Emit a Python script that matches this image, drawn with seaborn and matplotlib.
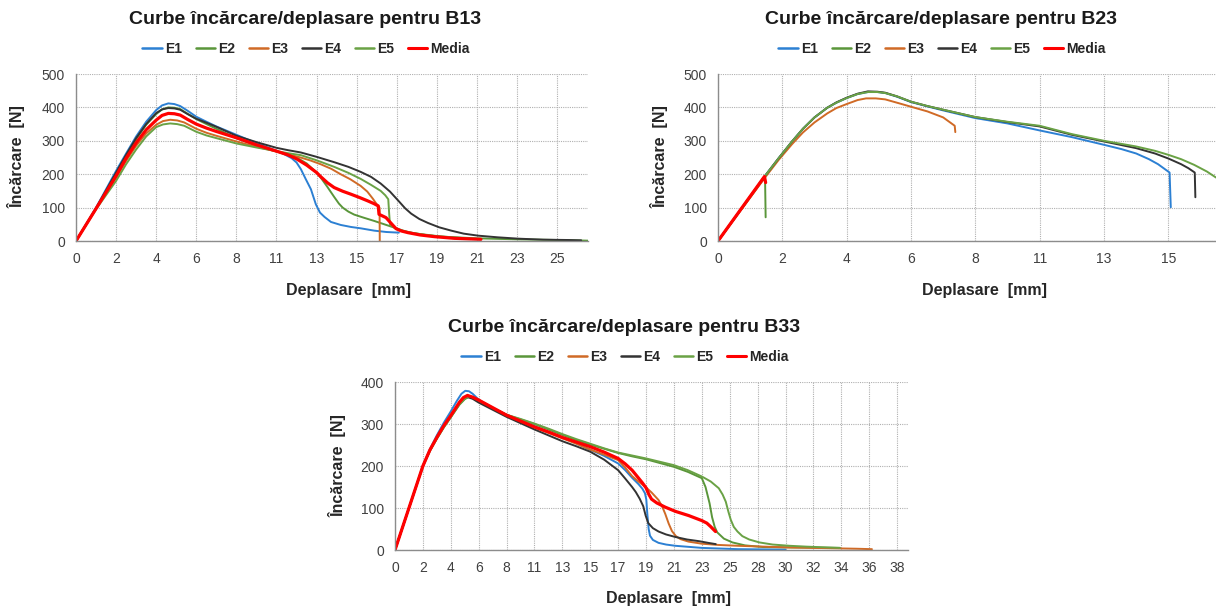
import matplotlib
matplotlib.use("Agg")
import matplotlib.pyplot as plt
import seaborn as sns
import pandas as pd

# Excel category axis: labels every ~2.12 mm, shown rounded
TICK_STEP = 2.12
B13_XTICKS = ["0", "2", "4", "6", "8", "11", "13", "15", "17", "19", "21", "23", "25"]
B23_XTICKS = ["0", "2", "4", "6", "8", "11", "13", "15"]
B33_XTICKS = ["0", "2", "4", "6", "8", "11", "13", "15", "17", "19", "21", "23",
              "25", "28", "30", "32", "34", "36", "38"]
SERIES = ["E1", "E2", "E3", "E4", "E5", "Media"]

# (deplasare mm, incarcare N)
B13_E1 = [(0, 0), (1.06, 100), (2.12, 210), (2.65, 262), (3.18, 313), (3.71, 357), (4.24, 392),
          (4.55, 406), (4.88, 412), (5.2, 410), (5.51, 404), (5.9, 390), (6.36, 372), (6.9, 357),
          (7.42, 343), (8.48, 318), (9.54, 293), (10.6, 270), (11.0, 260), (11.4, 248),
          (11.66, 235), (11.89, 215), (12.15, 185), (12.42, 155), (12.68, 110), (12.9, 85),
          (13.14, 72), (13.48, 57), (14.0, 48), (14.54, 42), (15.05, 38), (15.77, 31),
          (16.4, 27), (17.07, 25)]
B13_E2 = [(0, 0), (1.06, 97), (2.12, 200), (2.65, 255), (3.18, 305), (3.71, 348), (4.24, 380),
          (4.55, 394), (4.88, 400), (5.2, 399), (5.51, 395), (5.9, 381), (6.36, 365), (6.9, 350),
          (7.42, 336), (8.48, 308), (9.54, 285), (10.6, 268), (11.66, 250), (12.2, 232),
          (12.72, 205), (13.0, 185), (13.29, 162), (13.65, 132), (13.9, 112), (14.1, 100),
          (14.4, 88), (14.71, 79), (15.2, 70), (15.77, 60), (16.3, 50), (16.83, 40), (17.3, 31),
          (17.72, 25), (18.5, 18), (19.29, 13), (21.2, 8), (23.32, 5), (25.44, 3), (27.07, 1)]
B13_E3 = [(0, 0), (1.06, 97), (2.12, 190), (2.65, 240), (3.18, 285), (3.71, 322), (4.24, 348),
          (4.6, 359), (4.98, 363), (5.35, 361), (5.72, 355), (6.36, 336), (6.9, 324), (7.42, 315),
          (8.48, 298), (9.54, 282), (10.6, 268), (11.2, 260), (11.87, 250), (12.4, 241),
          (12.93, 230), (13.5, 216), (13.99, 200), (14.5, 185), (15.05, 165), (15.4, 148),
          (15.69, 127), (15.9, 110), (16.05, 100), (16.06, 0)]
B13_E4 = [(0, 0), (1.06, 98), (2.12, 205), (2.65, 258), (3.18, 308), (3.71, 350), (4.24, 383),
          (4.55, 394), (4.88, 398), (5.2, 397), (5.51, 393), (5.9, 380), (6.36, 366), (6.9, 354),
          (7.42, 342), (8.48, 315), (9.54, 296), (10.6, 279), (11.2, 272), (11.89, 265),
          (12.72, 252), (13.65, 236), (14.4, 222), (15.05, 207), (15.6, 192), (16.11, 172),
          (16.6, 148), (17.02, 122), (17.4, 98), (17.72, 82), (18.15, 66), (18.61, 54),
          (19.2, 41), (19.84, 31), (20.5, 22), (21.26, 16), (22.3, 11), (23.38, 7), (24.7, 4),
          (26.01, 3), (26.71, 2)]
B13_E5 = [(0, 0), (1.06, 95), (2.12, 180), (2.65, 230), (3.18, 274), (3.71, 313), (4.24, 341),
          (4.6, 349), (4.98, 352), (5.35, 350), (5.72, 345), (6.36, 327), (6.9, 316), (7.42, 308),
          (8.48, 292), (9.54, 280), (10.6, 269), (11.2, 263), (11.89, 257), (12.7, 242),
          (13.65, 222), (14.4, 204), (15.05, 186), (15.6, 168), (16.11, 150), (16.35, 137),
          (16.51, 125), (16.56, 80), (16.6, 50), (16.92, 36), (17.4, 28), (18.02, 22),
          (19.08, 15), (20.14, 10), (21.2, 6)]
B13_MEDIA = [(0, 0), (1.06, 97), (2.12, 195), (2.65, 248), (3.18, 294), (3.71, 333), (4.24, 362),
             (4.55, 376), (4.88, 382), (5.2, 381), (5.51, 377), (5.9, 364), (6.36, 350),
             (6.9, 338), (7.42, 328), (8.48, 309), (9.54, 288), (10.6, 269), (11.2, 258),
             (11.66, 246), (12.2, 227), (12.72, 205), (12.95, 192), (13.3, 174), (13.65, 160),
             (14.1, 149), (14.54, 140), (15.0, 130), (15.43, 120), (15.75, 112), (15.98, 105),
             (16.02, 80), (16.39, 70), (16.66, 53), (16.92, 37), (17.2, 30), (17.55, 25),
             (18.2, 18), (18.95, 13), (20.0, 8), (21.41, 5)]

B23_E1 = [(0, 0), (1.55, 195), (2.0, 248), (2.44, 298), (2.8, 336), (3.18, 370), (3.6, 399),
          (3.9, 414), (4.24, 428), (4.6, 440), (4.94, 446), (5.25, 446), (5.51, 443), (5.9, 432),
          (6.36, 416), (6.9, 403), (7.42, 391), (8.48, 368), (9.54, 352), (10.6, 331),
          (11.66, 311), (12.72, 288), (13.3, 275), (13.78, 262), (14.2, 245), (14.5, 230),
          (14.88, 205), (14.92, 101)]
B23_E2 = [(0, 0), (1.55, 192), (1.57, 71)]
B23_E3 = [(0, 0), (1.55, 190), (2.0, 243), (2.44, 290), (2.8, 325), (3.18, 355), (3.6, 382),
          (3.9, 398), (4.24, 410), (4.6, 422), (4.88, 427), (5.2, 427), (5.51, 424), (5.9, 414),
          (6.36, 402), (6.9, 388), (7.42, 370), (7.8, 345), (7.82, 326)]
B23_E4 = [(0, 0), (1.55, 195), (2.0, 248), (2.44, 298), (2.8, 336), (3.18, 370), (3.6, 399),
          (3.9, 415), (4.24, 429), (4.6, 441), (4.94, 448), (5.25, 447), (5.51, 444), (5.9, 433),
          (6.36, 417), (6.9, 404), (7.42, 393), (8.48, 371), (9.54, 356), (10.6, 343),
          (11.66, 318), (12.72, 298), (13.78, 278), (14.4, 262), (14.84, 247), (15.26, 230),
          (15.5, 218), (15.71, 205), (15.73, 131)]
B23_E5 = [(0, 0), (1.55, 195), (2.0, 248), (2.44, 298), (2.8, 336), (3.18, 370), (3.6, 399),
          (3.9, 414), (4.24, 428), (4.6, 440), (4.94, 446), (5.25, 446), (5.51, 443), (5.9, 433),
          (6.36, 417), (6.9, 404), (7.42, 393), (8.48, 371), (9.54, 357), (10.6, 345),
          (11.66, 320), (12.72, 300), (13.78, 283), (14.4, 270), (14.84, 258), (15.26, 245),
          (15.69, 228), (16.11, 208), (16.41, 190)]
B23_MEDIA = [(0, 0), (1.53, 193), (1.57, 175)]

B33_E1 = [(0, 0), (1.06, 100), (2.12, 200), (2.65, 240), (3.18, 273), (3.71, 303), (4.24, 330),
          (4.7, 355), (5.05, 372), (5.34, 379), (5.62, 378), (5.9, 372), (6.36, 358), (7.42, 338),
          (8.48, 322), (9.54, 308), (10.6, 295), (11.66, 281), (12.72, 268), (13.78, 254),
          (14.84, 239), (15.9, 224), (16.96, 206), (17.5, 190), (18.02, 172), (18.5, 157),
          (18.8, 146), (19.0, 135), (19.1, 120), (19.18, 85), (19.28, 50), (19.38, 34),
          (19.6, 24), (20.03, 17), (20.6, 13), (21.31, 10), (23.32, 5), (26.08, 2), (29.68, 1)]
B33_E2 = [(0, 0), (1.06, 100), (2.12, 200), (2.65, 236), (3.18, 265), (3.71, 292), (4.24, 316),
          (4.9, 346), (5.3, 359), (5.62, 365), (5.95, 362), (6.36, 356), (7.42, 338), (8.48, 322),
          (9.54, 311), (10.6, 300), (11.66, 287), (12.72, 274), (13.78, 262), (14.84, 251),
          (15.9, 241), (16.96, 231), (18.02, 223), (19.08, 216), (20.14, 207), (21.2, 198),
          (22.26, 186), (23.32, 171), (23.6, 150), (23.8, 125), (23.91, 111), (24.1, 78),
          (24.3, 55), (24.49, 42), (25.0, 27), (25.65, 18), (26.6, 11), (27.98, 7), (30.5, 6),
          (33.81, 5)]
B33_E3 = [(0, 0), (1.06, 100), (2.12, 200), (2.65, 237), (3.18, 267), (3.71, 295), (4.24, 319),
          (4.9, 350), (5.2, 361), (5.51, 366), (5.9, 363), (6.36, 356), (7.42, 338), (8.48, 320),
          (9.54, 305), (10.6, 292), (11.66, 279), (12.72, 266), (13.78, 253), (14.84, 239),
          (15.9, 227), (16.96, 214), (17.5, 196), (18.02, 176), (18.5, 163), (19.08, 149),
          (19.5, 137), (20.03, 119), (20.3, 104), (20.54, 86), (20.8, 63), (21.05, 45),
          (21.35, 33), (21.69, 26), (22.3, 20), (23.32, 15), (24.6, 12), (26.08, 10),
          (29.98, 6), (35.09, 3), (36.25, 2)]
B33_E4 = [(0, 0), (1.06, 100), (2.12, 200), (2.65, 237), (3.18, 267), (3.71, 295), (4.24, 318),
          (4.9, 350), (5.2, 360), (5.51, 364), (5.9, 360), (6.36, 351), (7.42, 334), (8.48, 317),
          (9.54, 302), (10.6, 287), (11.66, 273), (12.72, 259), (13.78, 247), (14.84, 234),
          (15.9, 215), (16.96, 190), (17.5, 170), (18.02, 150), (18.3, 138), (18.6, 122),
          (18.87, 104), (19.05, 82), (19.25, 64), (19.6, 52), (20.03, 44), (20.6, 37),
          (21.31, 31), (22.2, 25), (23.11, 21), (23.8, 17), (24.38, 14)]
B33_E5 = [(0, 0), (1.06, 100), (2.12, 200), (2.65, 236), (3.18, 265), (3.71, 292), (4.24, 316),
          (4.9, 347), (5.3, 360), (5.62, 366), (5.95, 363), (6.36, 357), (7.42, 339), (8.48, 322),
          (9.54, 312), (10.6, 301), (11.66, 289), (12.72, 276), (13.78, 264), (14.84, 253),
          (15.9, 242), (16.96, 232), (18.02, 225), (19.08, 218), (20.14, 210), (21.2, 202),
          (22.26, 190), (23.32, 175), (24.0, 163), (24.61, 147), (24.9, 132), (25.14, 115),
          (25.35, 90), (25.52, 72), (25.75, 55), (26.03, 44), (26.4, 33), (26.92, 25),
          (27.7, 18), (28.7, 13), (30.0, 10), (31.27, 8), (33.81, 5)]
B33_MEDIA = [(0, 0), (1.06, 100), (2.12, 200), (2.65, 238), (3.18, 268), (3.71, 296),
             (4.24, 320), (4.9, 352), (5.2, 363), (5.51, 368), (5.9, 364), (6.36, 357),
             (7.42, 339), (8.48, 321), (9.54, 307), (10.6, 293), (11.66, 281), (12.72, 268),
             (13.78, 257), (14.84, 246), (15.9, 233), (16.96, 218), (17.5, 205), (18.02, 190),
             (18.49, 172), (18.8, 160), (19.08, 148), (19.3, 132), (19.5, 121), (19.9, 112),
             (20.54, 102), (21.31, 92), (22.32, 82), (23.32, 70), (23.7, 64), (23.98, 56),
             (24.36, 44)]

COLORS = {"E1": "#2C80D3", "E2": "#5A963A", "E3": "#D06A26", "E4": "#333333",
          "E5": "#6AA245", "Media": "#FF0000"}
WIDTHS = {"E1": 1.4, "E2": 1.4, "E3": 1.4, "E4": 1.4, "E5": 1.4, "Media": 2.3}

sns.set_theme(style="white")
plt.rcParams["font.family"] = ["Liberation Sans", "DejaVu Sans"]

W, H = 1216, 609
fig = plt.figure(figsize=(W / 100, H / 100), dpi=100)


def fx(px):
    return px / W


def fy(py):
    return 1 - py / H


def draw_panel(curves, xticks, xmax, ymax, box, title_xy, legend_xy, xlabel_xy, ylabel_xy, name):
    left, top, right, bottom = box
    ax = fig.add_axes([fx(left), fy(bottom), fx(right) - fx(left), fy(top) - fy(bottom)])
    for s in SERIES:
        df = pd.DataFrame(curves[s], columns=["x", "y"])
        sns.lineplot(data=df, x="x", y="y", ax=ax, color=COLORS[s], linewidth=WIDTHS[s],
                     sort=False, estimator=None, label=s, legend=False)
    ax.set_xlim(0, xmax)
    ax.set_ylim(0, ymax)
    ax.set_xticks([i * TICK_STEP for i in range(len(xticks))])
    ax.set_xticklabels(xticks)
    ax.set_yticks(range(0, ymax + 1, 100))
    ax.tick_params(length=0, labelsize=10, colors="#404040", pad=8)
    ax.grid(True, color="#B0B0B0", linestyle=(0, (1, 1)), linewidth=0.8)
    for sp in ("top", "right"):
        ax.spines[sp].set_visible(False)
    for sp in ("left", "bottom"):
        ax.spines[sp].set_color("#8C8C8C")
        ax.spines[sp].set_linewidth(1)
    ax.set_xlabel("")
    ax.set_ylabel("")
    fig.text(fx(title_xy[0]), fy(title_xy[1]), f"Curbe încărcare/deplasare pentru {name}",
             ha="center", va="center", fontsize=14, fontweight="bold", color="#1A1A1A")
    fig.text(fx(xlabel_xy[0]), fy(xlabel_xy[1]), "Deplasare  [mm]", ha="center", va="center",
             fontsize=11.5, fontweight="bold", color="#262626")
    fig.text(fx(ylabel_xy[0]), fy(ylabel_xy[1]), "Încărcare  [N]", ha="center", va="center",
             rotation=90, fontsize=11.5, fontweight="bold", color="#262626")
    handles, labels = ax.get_legend_handles_labels()
    leg = fig.legend(handles, labels, loc="center", bbox_to_anchor=(fx(legend_xy[0]), fy(legend_xy[1])),
                     ncol=6, frameon=False, handlelength=1.4, handletextpad=0.2,
                     columnspacing=1.0, prop={"weight": "bold", "size": 10})
    for line in leg.get_lines():
        line.set_linewidth(2.2 if line.get_label() == "Media" else 1.8)
    return ax


draw_panel({"E1": B13_E1, "E2": B13_E2, "E3": B13_E3, "E4": B13_E4, "E5": B13_E5, "Media": B13_MEDIA},
           B13_XTICKS, 27.07, 500, (76, 74, 588, 241),
           (305, 20), (306, 49), (349, 291), (17, 157), "B13")
draw_panel({"E1": B23_E1, "E2": B23_E2, "E3": B23_E3, "E4": B23_E4, "E5": B23_E5, "Media": B23_MEDIA},
           B23_XTICKS, 16.41, 500, (718, 74, 1216, 241),
           (941, 20), (942, 49), (984, 291), (660, 157), "B23")
draw_panel({"E1": B33_E1, "E2": B33_E2, "E3": B33_E3, "E4": B33_E4, "E5": B33_E5, "Media": B33_MEDIA},
           B33_XTICKS, 38.99, 400, (395, 382, 908, 550),
           (624, 327), (625, 357), (668, 598), (338, 466), "B33")

fig.savefig("out.png", dpi=100)
